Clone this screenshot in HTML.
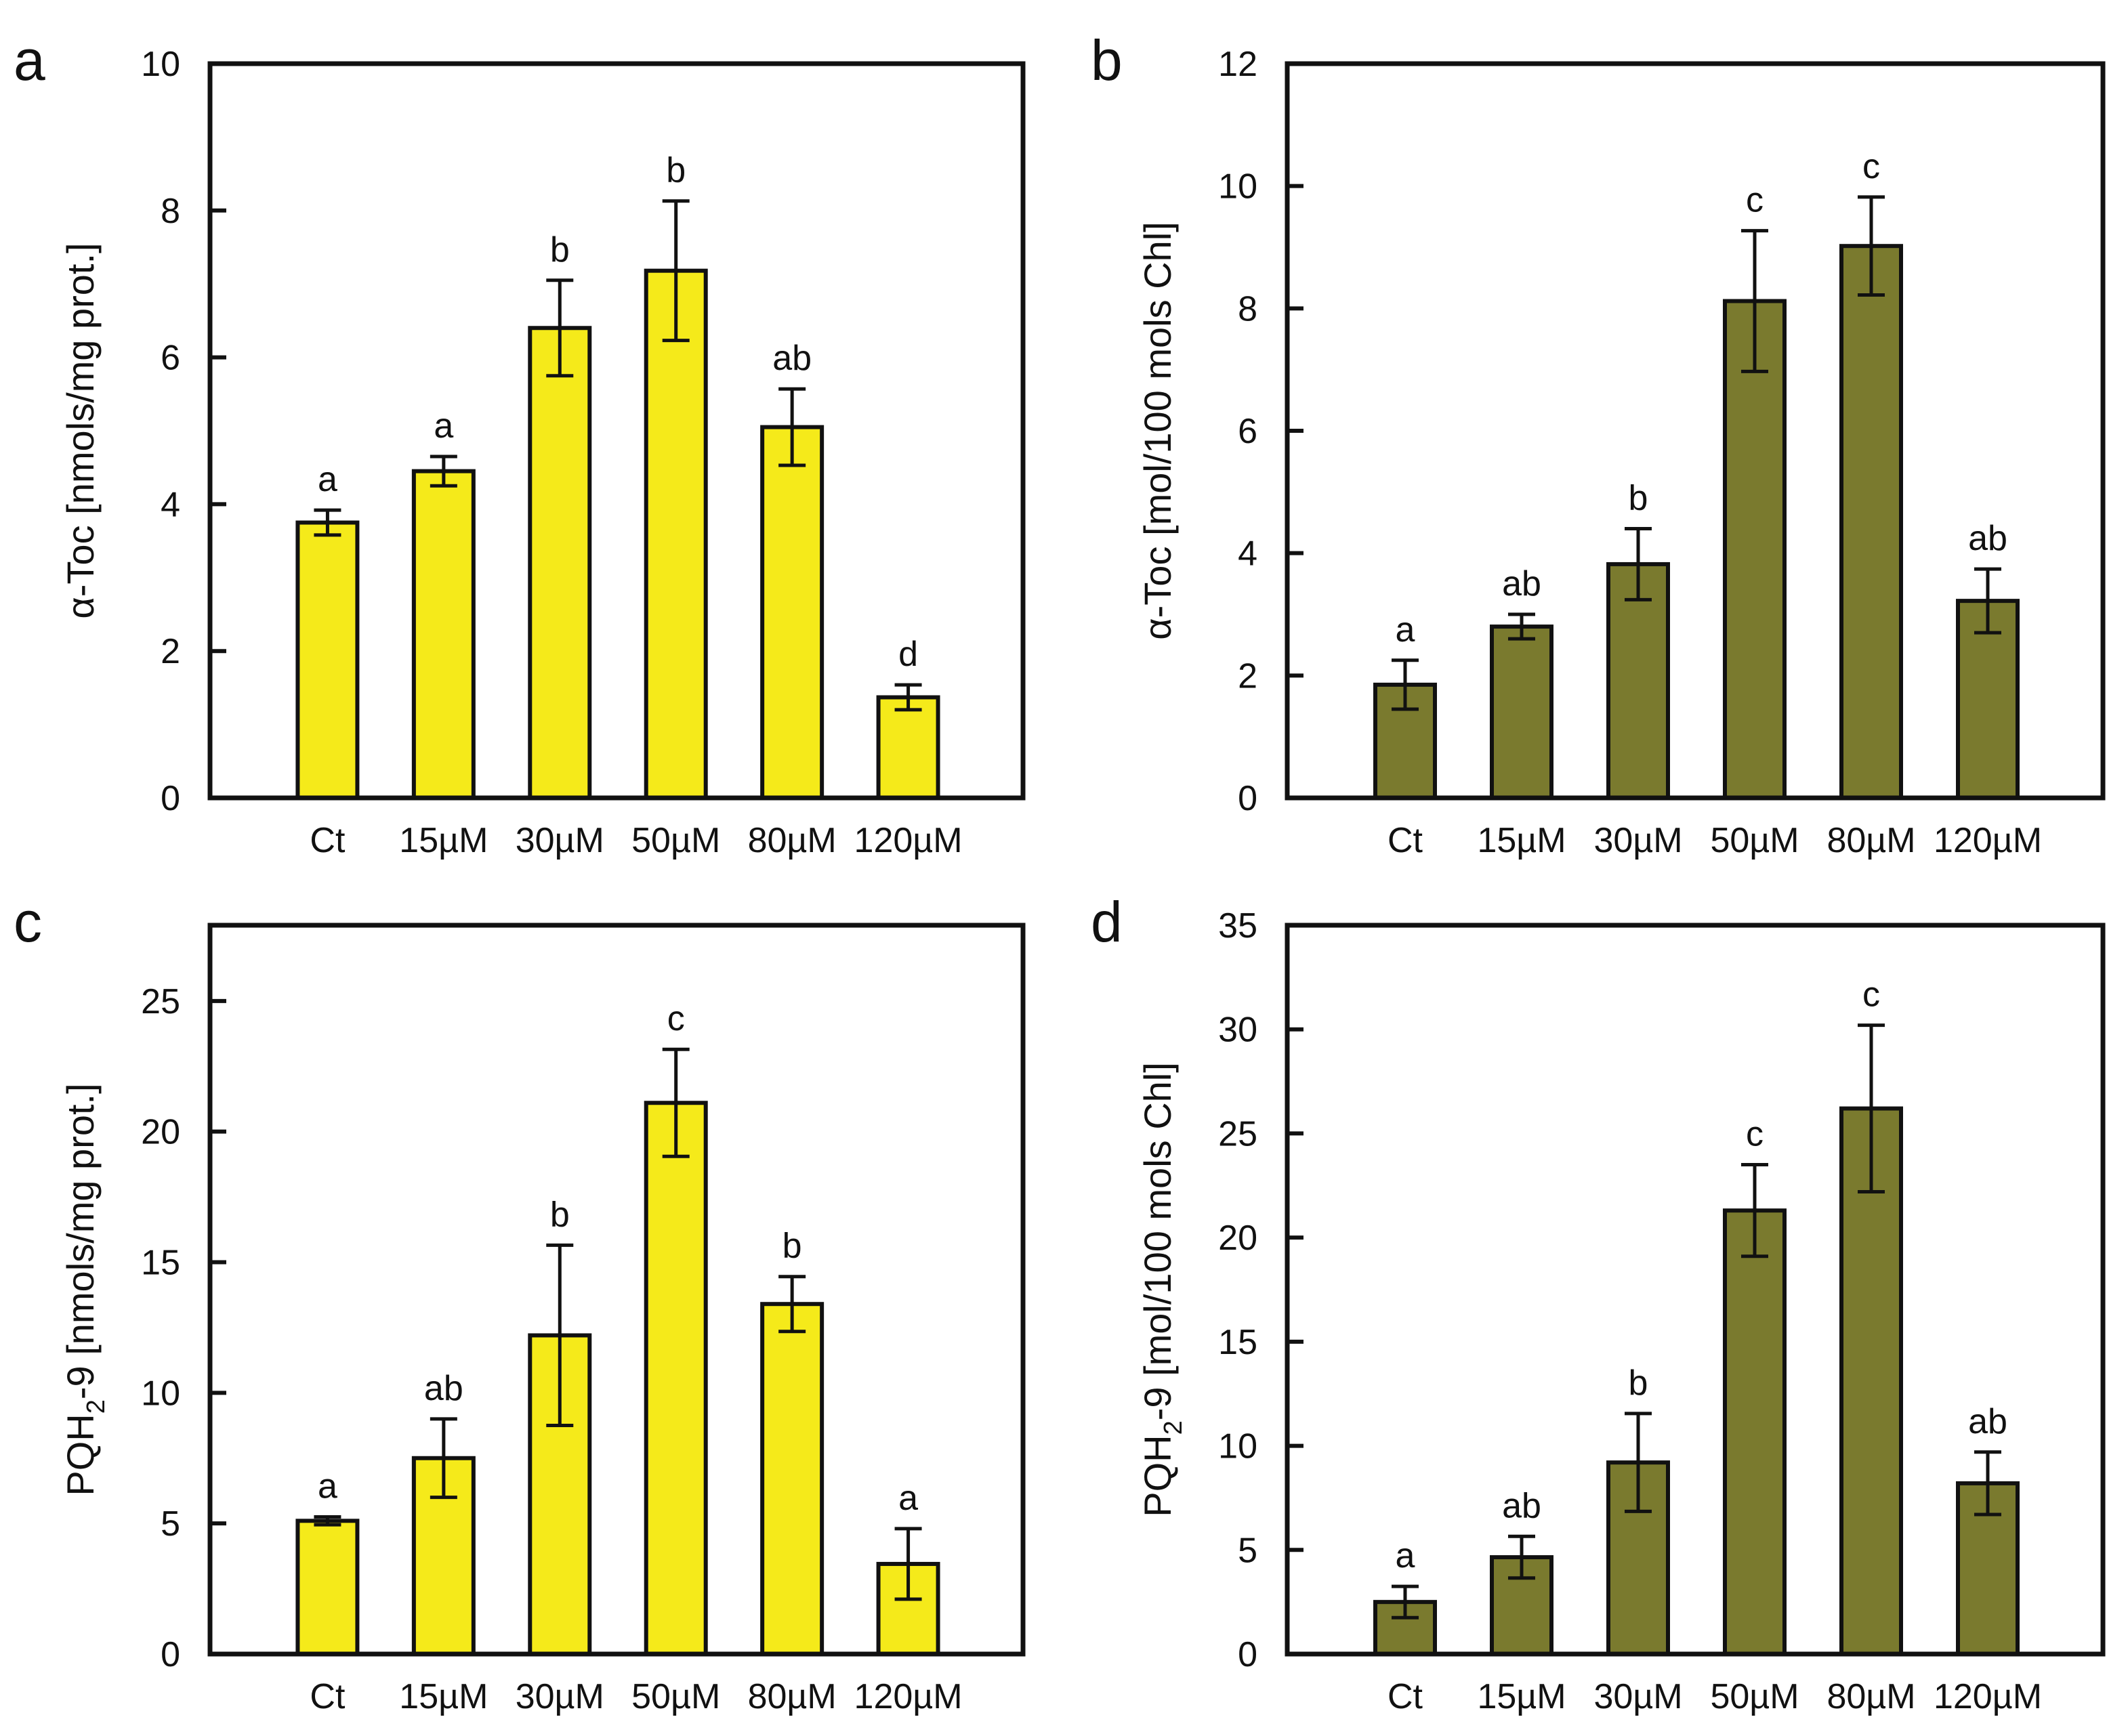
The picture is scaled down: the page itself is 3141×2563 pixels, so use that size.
<!DOCTYPE html>
<html><head><meta charset="utf-8"><style>html,body{margin:0;padding:0;background:#fff}svg{display:block}text{font-family:"Liberation Sans",Arial,sans-serif;fill:#111}</style></head>
<body>
<svg id="fig" width="3141" height="2563" viewBox="0 0 1570.5 1281.5" xmlns="http://www.w3.org/2000/svg"></svg>
<script>
const categories=["Ct","15\u00b5M","30\u00b5M","50\u00b5M","80\u00b5M","120\u00b5M"];
const aValues=[3.75,4.45,6.4,7.18,5.05,1.37];
const aErrors=[0.17,0.2,0.65,0.95,0.52,0.17];
const aLetters=["a","a","b","b","ab","d"];
const aTicks=[0,2,4,6,8,10];
const bValues=[1.85,2.8,3.82,8.12,9.02,3.22];
const bErrors=[0.4,0.2,0.58,1.15,0.8,0.52];
const bLetters=["a","ab","b","c","c","ab"];
const bTicks=[0,2,4,6,8,10,12];
const cValues=[5.1,7.5,12.2,21.1,13.4,3.45];
const cErrors=[0.15,1.5,3.45,2.05,1.05,1.35];
const cLetters=["a","ab","b","c","b","a"];
const cTicks=[0,5,10,15,20,25];
const dValues=[2.5,4.65,9.2,21.3,26.2,8.2];
const dErrors=[0.75,1.0,2.35,2.2,4.0,1.5];
const dLetters=["a","ab","b","c","c","ab"];
const dTicks=[0,5,10,15,20,25,30,35];

const NS="http://www.w3.org/2000/svg";
const svg=document.getElementById('fig');
function mk(tag,attrs,parent){const e=document.createElementNS(NS,tag);for(const k in attrs)e.setAttribute(k,attrs[k]);(parent||svg).appendChild(e);return e;}

function panel(id,letter,x0,x1,y0,y1,ymax,ticks,vals,errs,lets,color,titleParts){
  const g=mk('g',{});
  
  
  const ys=v=>y1-(v/ymax)*(y1-y0);
  const step=(x1-x0)/7;
  const xs=i=>x0+step*(i+1)+1;
  const bw=44;
  const pl=mk('text',{x:x0-145,y:y0+12,'font-size':42},g);pl.textContent=letter;
  
  
  vals.forEach((v,i)=>{
    const cx=xs(i);
    const r=mk('rect',{x:cx-bw/2,y:ys(v),width:bw,height:y1-ys(v),fill:color,stroke:'#111','stroke-width':3},g);
    
    
    const top=ys(v+errs[i]),bot=ys(v-errs[i]);
    const e=mk('path',{d:`M${cx},${top}V${bot}M${cx-10},${top}H${cx+10}M${cx-10},${bot}H${cx+10}`,stroke:'#111','stroke-width':2.5,fill:'none'},g);
    
    
    const t=mk('text',{x:cx,y:top-14,'font-size':26,'text-anchor':'middle'},g);t.textContent=lets[i];
    
    
    const c=mk('text',{x:cx,y:y1+40,'font-size':26,'text-anchor':'middle'},g);c.textContent=categories[i];
    
    
  });
  ticks.forEach(t=>{
    const y=ys(t);
    const l=mk('line',{x1:x0,x2:x0+12,y1:y,y2:y,stroke:'#111','stroke-width':3},g);
    
    
    const tx=mk('text',{x:x0-22,y:y+9,'font-size':26,'text-anchor':'end'},g);tx.textContent=t;
    
    
  });
  const box=mk('rect',{x:x0,y:y0,width:x1-x0,height:y1-y0,fill:'none',stroke:'#111','stroke-width':3.5},g);
  
  
  const ty=mk('text',{x:0,y:0,'font-size':28,'text-anchor':'middle',transform:`translate(${x0-86},${(y0+y1)/2}) rotate(-90)`},g);
  
  
  titleParts.forEach(p=>{const s=mk('tspan',p[1]?{'font-size':19,dy:8}:{dy:p[2]||0},ty);s.textContent=p[0];});
}
const Y='#f5ea1a',O='#7a7a2e';
panel('a','a',155,755,47,589,10,aTicks,aValues,aErrors,aLetters,Y,[["\u03b1-Toc [nmols/mg prot.]"]]);
panel('b','b',950,1552,47,589,12,bTicks,bValues,bErrors,bLetters,O,[["\u03b1-Toc [mol/100 mols Chl]"]]);
panel('c','c',155,755,683,1221,27.9,cTicks,cValues,cErrors,cLetters,Y,[["PQH"],["2",1],["-9 [nmols/mg prot.]",0,-8]]);
panel('d','d',950,1552,683,1221,35,dTicks,dValues,dErrors,dLetters,O,[["PQH"],["2",1],["-9 [mol/100 mols Chl]",0,-8]]);
</script>
</body></html>
